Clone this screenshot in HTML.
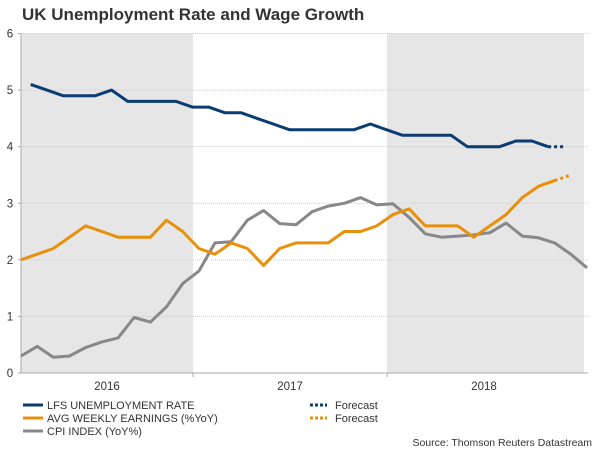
<!DOCTYPE html>
<html><head><meta charset="utf-8"><style>
body{margin:0;background:#fff;}
svg{display:block;font-family:"Liberation Sans",Arial,sans-serif;}
</style></head><body>
<svg id="chart" width="600" height="450" viewBox="0 0 600 450" xmlns="http://www.w3.org/2000/svg">
<text x="22" y="20" font-size="17" font-weight="bold" fill="#333">UK Unemployment Rate and Wage Growth</text>
<g id="bg"></g><g id="grid"></g><g id="axes"></g><g id="series"></g>
<g font-size="11" fill="#333">
<line x1="23" y1="405" x2="43" y2="405" stroke="#0b3c72" stroke-width="3"/>
<text x="47" y="409">LFS UNEMPLOYMENT RATE</text>
<line x1="23" y1="418" x2="43" y2="418" stroke="#e8900a" stroke-width="3"/>
<text x="47" y="422">AVG WEEKLY EARNINGS (%YoY)</text>
<line x1="23" y1="431" x2="43" y2="431" stroke="#888" stroke-width="3"/>
<text x="47" y="435">CPI INDEX (YoY%)</text>
<line x1="310" y1="405" x2="327" y2="405" stroke="#0b3c72" stroke-width="3" stroke-dasharray="3,2"/>
<text x="335" y="409">Forecast</text>
<line x1="310" y1="418" x2="327" y2="418" stroke="#e8900a" stroke-width="3" stroke-dasharray="3,2"/>
<text x="335" y="422">Forecast</text>
</g>
<text x="592" y="446" font-size="10.5" fill="#333" text-anchor="end">Source: Thomson Reuters Datastream</text>
</svg>
<script>
const yTicks=[0,1,2,3,4,5,6];
const years=['2016','2017','2018'];
const unemployment=[5.1,5.0,4.9,4.9,4.9,5.0,4.8,4.8,4.8,4.8,4.7,4.7,4.6,4.6,4.5,4.4,4.3,4.3,4.3,4.3,4.3,4.4,4.3,4.2,4.2,4.2,4.2,4.0,4.0,4.0,4.1,4.1,4.0];
const unemploymentForecast=[4.0,4.0];
const earnings=[2.0,2.1,2.2,2.4,2.6,2.5,2.4,2.4,2.4,2.7,2.5,2.2,2.1,2.3,2.2,1.9,2.2,2.3,2.3,2.3,2.5,2.5,2.6,2.8,2.9,2.6,2.6,2.6,2.4,2.6,2.8,3.1,3.3,3.4];
const earningsForecast=[3.4,3.5];
const cpi=[0.3,0.47,0.28,0.3,0.45,0.55,0.62,0.98,0.9,1.17,1.58,1.8,2.3,2.32,2.7,2.87,2.64,2.62,2.85,2.95,3.0,3.1,2.97,2.99,2.75,2.46,2.4,2.42,2.44,2.48,2.65,2.42,2.39,2.3,2.1,1.86];
const unemploymentOffset=0.6;
const X0=21,DX=16.17,Y0=373,YT=33.5,YMAX=6,PR=588;
const yearBounds=[21,193,387,584];
const yearLabelX=[107,290,484];
function x(i){return X0+i*DX;}
function y(v){return Y0-(v/YMAX)*(Y0-YT);}
const NS='http://www.w3.org/2000/svg';
function mk(tag,attrs,parent){const e=document.createElementNS(NS,tag);for(const k in attrs)e.setAttribute(k,attrs[k]);document.getElementById(parent).appendChild(e);return e;}
years.forEach((yr,j)=>{
  const x1=yearBounds[j], x2=yearBounds[j+1];
  if(j%2===0){const r=mk('rect',{x:x1,y:YT,width:x2-x1,height:Y0-YT,fill:'#e6e6e6'},'bg');
  
  }
  const t=mk('text',{x:yearLabelX[j],y:390,'font-size':11.5,fill:'#333','text-anchor':'middle'},'axes');
  t.textContent=yr;
  
  
  if(j>0){const tk=mk('line',{x1:x1,y1:Y0,x2:x1,y2:Y0+4,stroke:'#aaa'},'axes');
  
  }
});
yTicks.forEach(v=>{
  if(v>0){const g=mk('line',{x1:X0,y1:y(v),x2:PR,y2:y(v),stroke:'#ccc','stroke-dasharray':'1,1'},'grid');
  
  }
  const t=mk('text',{x:10,y:y(v)+4,'font-size':11.5,fill:'#333','text-anchor':'middle'},'axes');
  t.textContent=v;
  
  
  const tk=mk('line',{x1:X0-3,y1:y(v),x2:X0,y2:y(v),stroke:'#aaa'},'axes');
  
  
});
const ya=mk('line',{x1:X0,y1:YT,x2:X0,y2:Y0,stroke:'#aaa'},'axes');


const xa=mk('line',{x1:X0,y1:Y0,x2:PR,y2:Y0,stroke:'#aaa'},'axes');


function line(vals,off,color,name,dash){
  const pts=vals.map((v,i)=>x(i+off).toFixed(1)+','+y(v).toFixed(1)).join(' ');
  const a={points:pts,fill:'none',stroke:color,'stroke-width':3,'stroke-linejoin':'round'};
  if(dash)a['stroke-dasharray']=dash;
  const p=mk('polyline',a,'series');
  
  
}
line(cpi,0,'#888','cpi-line');
line(earnings,0,'#e8900a','earnings-line');
line(earningsForecast,earnings.length-1,'#e8900a','earnings-forecast-line','3,3');
line(unemployment,unemploymentOffset,'#0b3c72','unemployment-line');
line(unemploymentForecast,unemployment.length-1+unemploymentOffset,'#0b3c72','unemployment-forecast-line','3,3');
</script>
</body></html>
